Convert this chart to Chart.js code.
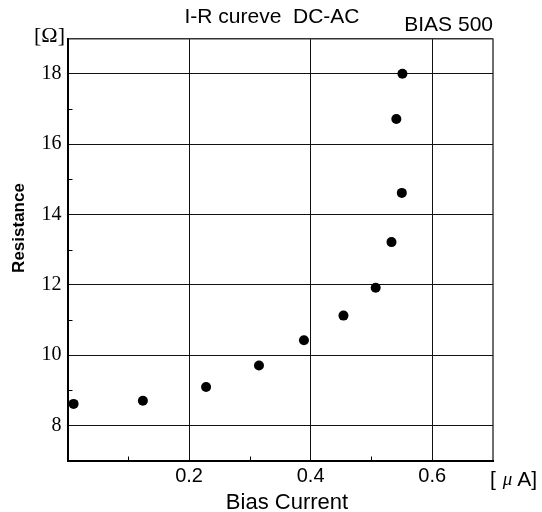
<!DOCTYPE html>
<html><head><meta charset="utf-8">
<script src="https://cdn.jsdelivr.net/npm/chart.js@4/dist/chart.umd.min.js"></script>
<style>html,body{margin:0;padding:0;background:#fff;overflow:hidden}canvas{display:block}</style>
</head><body>
<canvas id="c" width="542" height="512"></canvas>
<script>
// ---- data ----
const biasCurrent = [0.010, 0.124, 0.228, 0.315, 0.389, 0.454, 0.507, 0.533, 0.550, 0.541, 0.551];
const resistance  = [8.61, 8.70, 9.09, 9.70, 10.42, 11.12, 11.91, 13.21, 14.61, 16.71, 18.00];
const xTickLabels = [0.2, 0.4, 0.6];
const yTickLabels = [8, 10, 12, 14, 16, 18];
const xMinorTicks = [0.1, 0.3, 0.5];
const yMinorTicks = [9, 11, 13, 15, 17];
const xRange = [0, 0.7];
const yRange = [7, 19];
const titleText = 'I-R cureve  DC-AC';
const biasText = 'BIAS 500';
const xAxisTitle = 'Bias Current';
const yAxisTitle = 'Resistance';
const yUnit = '[\u03A9]';

const points = biasCurrent.map((x, i) => ({ x, y: resistance[i] }));

const decor = {
  id: 'decor',
  afterDraw(chart) {
    const ctx = chart.ctx, a = chart.chartArea;
    const xs = chart.scales.x, ys = chart.scales.y;
    ctx.save();
    // minor ticks (inside)
    ctx.strokeStyle = '#000'; ctx.lineWidth = 1;
    yMinorTicks.forEach(v => {
      const p = Math.round(ys.getPixelForValue(v)) + 0.5;
      ctx.beginPath(); ctx.moveTo(a.left, p); ctx.lineTo(a.left + 5, p); ctx.stroke();
    });
    xMinorTicks.forEach(v => {
      const p = Math.round(xs.getPixelForValue(v)) + 0.5;
      ctx.beginPath(); ctx.moveTo(p, a.bottom); ctx.lineTo(p, a.bottom - 4); ctx.stroke();
    });
    ctx.fillStyle = '#000';
    // title
    ctx.font = '21px "Liberation Sans", Arial, sans-serif';
    ctx.textAlign = 'center'; ctx.textBaseline = 'middle';
    ctx.fillText(titleText, 272, 17);
    // BIAS 500
    ctx.font = '21px "Liberation Sans", Arial, sans-serif';
    ctx.textAlign = 'right';
    ctx.fillText(biasText, a.right, 25);
    // [Ω]
    ctx.font = '22px "Liberation Serif", "Times New Roman", serif';
    ctx.textAlign = 'right';
    ctx.fillText(yUnit, 65, 36);
    // [μA]
    ctx.textAlign = 'left';
    let px = 490; const py = 480;
    ctx.font = '21px "Liberation Sans", Arial, sans-serif';
    ctx.fillText('[', px, py); px += ctx.measureText('[ ').width + 1;
    ctx.font = 'italic 19px "Liberation Serif", serif';
    ctx.fillText('\u03BC', px, py); px += ctx.measureText('\u03BC').width + 5;
    ctx.font = '21px "Liberation Sans", Arial, sans-serif';
    ctx.fillText('A]', px, py);
    // axis titles
    ctx.font = '22px "Liberation Sans", Arial, sans-serif';
    ctx.textAlign = 'center'; ctx.textBaseline = 'alphabetic';
    ctx.fillText(xAxisTitle, 287, 509);
    ctx.translate(19, 228); ctx.rotate(-Math.PI / 2);
    ctx.font = 'bold 17px "Liberation Sans", Arial, sans-serif';
    ctx.textBaseline = 'middle';
    ctx.fillText(yAxisTitle, 0, 0);
    ctx.restore();
  }
};

new Chart(document.getElementById('c'), {
  type: 'scatter',
  data: { datasets: [{ data: points, pointRadius: 5, pointHoverRadius: 5,
    backgroundColor: '#000', borderColor: '#000', borderWidth: 0, showLine: false }] },
  options: {
    responsive: false, animation: false, events: [],
    layout: { padding: { left: 0, right: 49, top: 38.5, bottom: 0 } },
    plugins: { legend: { display: false }, tooltip: { enabled: false }, title: { display: false } },
    scales: {
      x: {
        type: 'linear', min: xRange[0], max: xRange[1],
        afterBuildTicks: s => { s.ticks = [xRange[0], ...xTickLabels, xRange[1]].map(v => ({ value: v })); },
        afterFit: s => { s.height = 51.5; },
        ticks: { padding: 4, color: '#000', font: { family: '"Liberation Sans", Arial, sans-serif', size: 20 },
          callback: v => xTickLabels.includes(v) ? String(v) : '' , maxRotation: 0, autoSkip: false },
        grid: { drawTicks: false,
          color: c => c.tick && c.tick.value === xRange[1] ? '#6e6e6e' : (c.tick && c.tick.value === xRange[0] ? 'rgba(0,0,0,0)' : '#111'),
          lineWidth: c => c.tick && c.tick.value === xRange[1] ? 2 : 1 },
        border: { display: true, color: '#000', width: 2 }
      },
      y: {
        type: 'linear', min: yRange[0], max: yRange[1],
        afterBuildTicks: s => { s.ticks = [yRange[0], ...yTickLabels, yRange[1]].map(v => ({ value: v })); },
        afterFit: s => { s.width = 67.5; },
        ticks: { padding: 6, color: '#000', font: { family: '"Liberation Serif", "Times New Roman", serif', size: 20 },
          callback: v => yTickLabels.includes(v) ? String(v) : '', autoSkip: false },
        grid: { drawTicks: false,
          color: c => c.tick && c.tick.value === yRange[1] ? '#333' : (c.tick && c.tick.value === yRange[0] ? 'rgba(0,0,0,0)' : '#111'),
          lineWidth: c => c.tick && c.tick.value === yRange[1] ? 1.5 : 1 },
        border: { display: true, color: '#000', width: 2 }
      }
    }
  },
  plugins: [decor]
});
</script>
</body></html>
